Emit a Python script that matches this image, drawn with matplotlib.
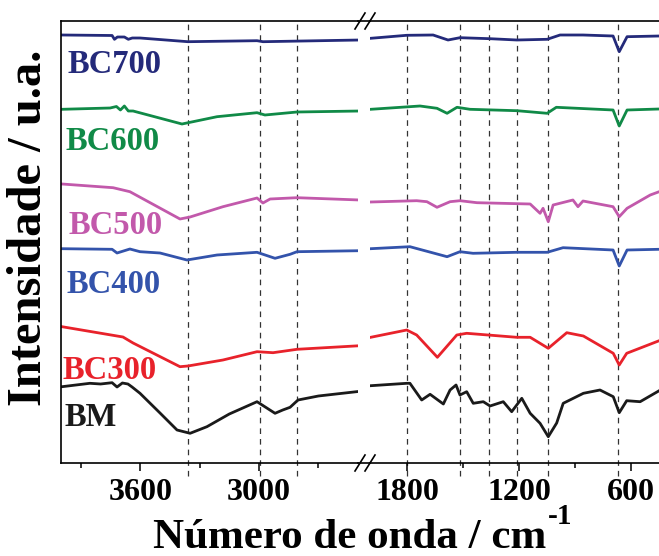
import numpy as np
import matplotlib
matplotlib.use("Agg")
from matplotlib import pyplot as plt
from matplotlib.lines import Line2D

plt.rcParams['font.family'] = ['Liberation Serif', 'DejaVu Serif']
plt.rcParams['font.weight'] = 'bold'

# spectra: (wavenumber cm-1, intensity a.u.)
# high wavenumber part (4000-2500) and fingerprint part (2000-450)
bm_hi_wn = [3995, 3854, 3800, 3742, 3717, 3690, 3662, 3641, 3601, 3500, 3414, 3348, 3263, 3150, 3010, 2919, 2880, 2843, 2803, 2700, 2490]
bm_hi_i = [0.763, 0.797, 0.79, 0.803, 0.76, 0.80, 0.79, 0.76, 0.697, 0.50, 0.33, 0.297, 0.363, 0.49, 0.613, 0.497, 0.53, 0.557, 0.63, 0.67, 0.717]
bm_lo_wn = [1994, 1800, 1784, 1721, 1676, 1605, 1569, 1537, 1516, 1480, 1445, 1391, 1355, 1284, 1239, 1185, 1140, 1087, 1043, 998, 963, 855, 766, 695, 663, 623, 551, 449]
bm_lo_i = [0.773, 0.797, 0.797, 0.63, 0.687, 0.59, 0.73, 0.78, 0.68, 0.713, 0.597, 0.613, 0.57, 0.613, 0.513, 0.647, 0.497, 0.397, 0.263, 0.40, 0.597, 0.697, 0.73, 0.663, 0.503, 0.623, 0.613, 0.723]

bc300_hi_wn = [3995, 3687, 3636, 3399, 3359, 3182, 3010, 2929, 2808, 2490]
bc300_hi_i = [1.363, 1.26, 1.20, 0.963, 0.97, 1.03, 1.113, 1.103, 1.137, 1.173]
bc300_lo_wn = [1994, 1801, 1748, 1637, 1533, 1480, 1212, 1140, 1043, 944, 855, 695, 663, 623, 449]
bc300_lo_i = [1.257, 1.33, 1.28, 1.057, 1.28, 1.297, 1.257, 1.257, 1.147, 1.303, 1.27, 1.097, 0.98, 1.097, 1.223]

bc400_hi_wn = [3995, 3742, 3717, 3652, 3601, 3500, 3364, 3212, 3010, 2919, 2843, 2808, 2490]
bc400_hi_i = [2.143, 2.137, 2.10, 2.14, 2.113, 2.10, 2.03, 2.08, 2.107, 2.047, 2.087, 2.113, 2.123]
bc400_lo_wn = [1994, 1784, 1585, 1516, 1446, 1211, 1049, 964, 696, 663, 621, 449]
bc400_lo_i = [2.143, 2.163, 2.063, 2.113, 2.097, 2.107, 2.107, 2.153, 2.13, 1.97, 2.13, 2.137]

bc500_hi_wn = [3995, 3737, 3652, 3399, 3348, 3182, 3010, 2980, 2944, 2808, 2490]
bc500_hi_i = [2.79, 2.753, 2.713, 2.44, 2.46, 2.563, 2.65, 2.60, 2.64, 2.653, 2.63]
bc500_lo_wn = [1994, 1748, 1693, 1639, 1569, 1516, 1425, 1140, 1087, 1071, 1043, 1017, 911, 884, 857, 696, 663, 621, 497, 449]
bc500_lo_i = [2.61, 2.623, 2.613, 2.557, 2.613, 2.623, 2.603, 2.59, 2.497, 2.547, 2.413, 2.58, 2.63, 2.563, 2.62, 2.563, 2.463, 2.547, 2.68, 2.713]

bc600_hi_wn = [3995, 3752, 3720, 3700, 3680, 3660, 3636, 3389, 3212, 3010, 2970, 2808, 2490]
bc600_hi_i = [3.537, 3.55, 3.565, 3.53, 3.57, 3.52, 3.52, 3.39, 3.463, 3.503, 3.48, 3.51, 3.52]
bc600_lo_wn = [1994, 1730, 1639, 1585, 1532, 1462, 1211, 1049, 1000, 696, 663, 621, 449]
bc600_lo_i = [3.537, 3.57, 3.547, 3.497, 3.557, 3.537, 3.523, 3.497, 3.557, 3.53, 3.37, 3.53, 3.54]

bc700_hi_wn = [3995, 3742, 3730, 3715, 3680, 3660, 3640, 3601, 3359, 3010, 2980, 2490]
bc700_hi_i = [4.28, 4.275, 4.237, 4.26, 4.26, 4.237, 4.25, 4.25, 4.213, 4.223, 4.213, 4.23]
bc700_lo_wn = [1994, 1801, 1660, 1580, 1516, 1355, 1211, 1049, 980, 857, 696, 663, 621, 449]
bc700_lo_i = [4.247, 4.277, 4.28, 4.23, 4.253, 4.243, 4.23, 4.237, 4.28, 4.28, 4.27, 4.113, 4.263, 4.27]

names = ['BM', 'BC300', 'BC400', 'BC500', 'BC600', 'BC700']
colors = ['#1a1a1a', '#e8222b', '#3353ab', '#c259ab', '#108a47', '#242a7a']
label_wn = [3980, 3991, 3970, 3962, 3975, 3965]
label_i = [0.37, 0.837, 1.697, 2.29, 3.13, 3.90]

hi_wn = [bm_hi_wn, bc300_hi_wn, bc400_hi_wn, bc500_hi_wn, bc600_hi_wn, bc700_hi_wn]
hi_i = [bm_hi_i, bc300_hi_i, bc400_hi_i, bc500_hi_i, bc600_hi_i, bc700_hi_i]
lo_wn = [bm_lo_wn, bc300_lo_wn, bc400_lo_wn, bc500_lo_wn, bc600_lo_wn, bc700_lo_wn]
lo_i = [bm_lo_i, bc300_lo_i, bc400_lo_i, bc500_lo_i, bc600_lo_i, bc700_lo_i]

marks_hi = [3360, 2995, 2810]
marks_lo = [1800, 1516, 1360, 1208, 1046, 668]

fig = plt.figure(figsize=(6.59, 5.56), dpi=100)
W, H = 659.0, 556.0
bottom, top = 463, 21
ax1 = fig.add_axes([61 / W, (H - bottom) / H, 297 / W, (bottom - top) / H])
ax2 = fig.add_axes([369.6 / W, (H - bottom) / H, (W - 369.6) / W, (bottom - top) / H])

for ax, wns, vals, lim, marks, major, minor in [
        (ax1, hi_wn, hi_i, (4000, 2500), marks_hi, [3600, 3000], [3900, 3300, 2700]),
        (ax2, lo_wn, lo_i, (2000, 450), marks_lo, [1800, 1200, 600], [1500, 900])]:
    for wn, v, c in zip(wns, vals, colors):
        ax.plot(wn, v, color=c, lw=2.0, solid_joinstyle='round')
    for m in marks:
        ax.axvline(m, ymin=-0.03, ymax=1, color='#333333', lw=0.9, ls=(0, (4.5, 4)), clip_on=False, zorder=0)
    ax.set_xlim(*lim)
    ax.set_ylim(0, 4.42)
    ax.set_yticks([])
    ax.set_xticks(major)
    ax.set_xticks(minor, minor=True)
    ax.tick_params(axis='x', which='major', direction='out', length=6, width=1.1, labelsize=23, pad=5)
    ax.tick_params(axis='x', which='minor', direction='out', length=3.5, width=1.1)
    for lab in ax.get_xticklabels():
        lab.set_fontweight('bold')
    for s in ax.spines.values():
        s.set_linewidth(1.2)
    ax.spines['right'].set_visible(False)
ax2.spines['left'].set_visible(False)

for n, c, x, y in zip(names, colors, label_wn, label_i):
    ax1.text(x, y, n, color=c, fontsize=23.5, fontweight='bold', ha='left', va='baseline')

# spines across the gap and the break marks
for py in [top, bottom]:
    yf = (H - py) / H
    fig.add_artist(Line2D([358 / W, 369.6 / W], [yf, yf], color='k', lw=1.2))
    for cx in [360, 370]:
        fig.add_artist(Line2D([(cx - 5) / W, (cx + 5) / W], [(H - py - 8) / H, (H - py + 8) / H], color='k', lw=1.2))

fig.text(29 / W, (H - 228) / H, 'Intensidade / u.a.', rotation=90, ha='center', va='center',
         fontsize=35, fontweight='bold')
xl = fig.text(350 / W, (H - 548) / H, 'Número de onda / cm', ha='center', va='baseline',
              fontsize=31, fontweight='bold')
fig.add_artist(plt.Annotation('-1', xy=(1.0, 0.7), xycoords=xl, xytext=(1, 0), textcoords='offset points',
                              ha='left', va='bottom', fontsize=21, fontweight='bold'))

fig.savefig('out.png', dpi=100)
